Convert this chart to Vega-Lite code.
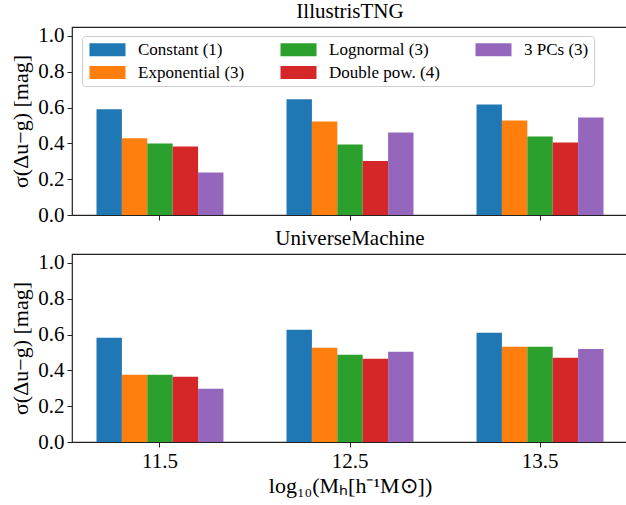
{
  "$schema": "https://vega.github.io/schema/vega-lite/v6.json",
  "padding": {"left": 9, "top": 0, "right": 0, "bottom": 2},
  "background": "white",
  "config": {
    "font": "Liberation Serif, serif",
    "view": {"stroke": "#222222", "strokeWidth": 1.2},
    "axis": {
      "labelFont": "Liberation Serif, serif",
      "titleFont": "Liberation Serif, serif",
      "labelFontSize": 21,
      "titleFontSize": 22,
      "titleFontWeight": "normal",
      "labelColor": "black",
      "titleColor": "black",
      "tickColor": "#222222",
      "tickSize": 5,
      "labelPadding": 3,
      "grid": false,
      "domain": false
    },
    "legend": {"labelFont": "Liberation Serif, serif"},
    "title": {"font": "Liberation Serif, serif", "fontSize": 21, "fontWeight": "normal", "color": "black", "offset": 3}
  },
  "data": {
    "values": [
      {"sim": "IllustrisTNG", "mass": "11.5", "model": "Constant (1)", "value": 0.590},
      {"sim": "IllustrisTNG", "mass": "11.5", "model": "Exponential (3)", "value": 0.429},
      {"sim": "IllustrisTNG", "mass": "11.5", "model": "Lognormal (3)", "value": 0.399},
      {"sim": "IllustrisTNG", "mass": "11.5", "model": "Double pow. (4)", "value": 0.382},
      {"sim": "IllustrisTNG", "mass": "11.5", "model": "3 PCs (3)", "value": 0.237},
      {"sim": "IllustrisTNG", "mass": "12.5", "model": "Constant (1)", "value": 0.646},
      {"sim": "IllustrisTNG", "mass": "12.5", "model": "Exponential (3)", "value": 0.522},
      {"sim": "IllustrisTNG", "mass": "12.5", "model": "Lognormal (3)", "value": 0.394},
      {"sim": "IllustrisTNG", "mass": "12.5", "model": "Double pow. (4)", "value": 0.302},
      {"sim": "IllustrisTNG", "mass": "12.5", "model": "3 PCs (3)", "value": 0.461},
      {"sim": "IllustrisTNG", "mass": "13.5", "model": "Constant (1)", "value": 0.617},
      {"sim": "IllustrisTNG", "mass": "13.5", "model": "Exponential (3)", "value": 0.528},
      {"sim": "IllustrisTNG", "mass": "13.5", "model": "Lognormal (3)", "value": 0.438},
      {"sim": "IllustrisTNG", "mass": "13.5", "model": "Double pow. (4)", "value": 0.405},
      {"sim": "IllustrisTNG", "mass": "13.5", "model": "3 PCs (3)", "value": 0.545},
      {"sim": "UniverseMachine", "mass": "11.5", "model": "Constant (1)", "value": 0.582},
      {"sim": "UniverseMachine", "mass": "11.5", "model": "Exponential (3)", "value": 0.375},
      {"sim": "UniverseMachine", "mass": "11.5", "model": "Lognormal (3)", "value": 0.375},
      {"sim": "UniverseMachine", "mass": "11.5", "model": "Double pow. (4)", "value": 0.364},
      {"sim": "UniverseMachine", "mass": "11.5", "model": "3 PCs (3)", "value": 0.297},
      {"sim": "UniverseMachine", "mass": "12.5", "model": "Constant (1)", "value": 0.627},
      {"sim": "UniverseMachine", "mass": "12.5", "model": "Exponential (3)", "value": 0.526},
      {"sim": "UniverseMachine", "mass": "12.5", "model": "Lognormal (3)", "value": 0.487},
      {"sim": "UniverseMachine", "mass": "12.5", "model": "Double pow. (4)", "value": 0.465},
      {"sim": "UniverseMachine", "mass": "12.5", "model": "3 PCs (3)", "value": 0.504},
      {"sim": "UniverseMachine", "mass": "13.5", "model": "Constant (1)", "value": 0.610},
      {"sim": "UniverseMachine", "mass": "13.5", "model": "Exponential (3)", "value": 0.532},
      {"sim": "UniverseMachine", "mass": "13.5", "model": "Lognormal (3)", "value": 0.532},
      {"sim": "UniverseMachine", "mass": "13.5", "model": "Double pow. (4)", "value": 0.470},
      {"sim": "UniverseMachine", "mass": "13.5", "model": "3 PCs (3)", "value": 0.520}
    ]
  },
  "spacing": 1,
  "vconcat": [
    {
      "title": {"text": "IllustrisTNG", "anchor": "middle"},
      "width": 556,
      "height": 188,
      "transform": [{"filter": "datum.sim === 'IllustrisTNG'"}],
      "mark": {"type": "bar"},
      "encoding": {
        "x": {"field": "mass", "type": "nominal", "sort": ["11.5", "12.5", "13.5"],
              "scale": {"paddingInner": 0.074, "paddingOuter": 0},
              "axis": {"labels": false, "title": null, "labelAngle": 0}},
        "xOffset": {"field": "model", "type": "nominal",
                    "sort": ["Constant (1)", "Exponential (3)", "Lognormal (3)", "Double pow. (4)", "3 PCs (3)"],
                    "scale": {"paddingInner": 0, "paddingOuter": 0.965}},
        "y": {"field": "value", "type": "quantitative",
              "scale": {"domain": [0, 1.05], "nice": false},
              "axis": {"values": [0, 0.2, 0.4, 0.6, 0.8, 1.0], "format": ".1f", "title": "σ(Δu−g) [mag]", "titlePadding": 5}},
        "color": {"field": "model", "type": "nominal",
                  "scale": {"domain": ["Constant (1)", "Exponential (3)", "Lognormal (3)", "Double pow. (4)", "3 PCs (3)"],
                            "range": ["#1f77b4", "#ff7f0e", "#2ca02c", "#d62728", "#9467bd"]},
                  "legend": {"title": null, "orient": "none", "legendX": 10, "legendY": 9, "columns": 3,
                             "symbolType": "M-1,-1.08H5V1.08H-1Z", "symbolSize": 144, "symbolStrokeWidth": 0,
                             "symbolOpacity": 1,
                             "labelFont": "Liberation Serif, serif", "labelFontSize": 17, "labelColor": "black",
                             "labelOffset": 34, "columnPadding": 33, "rowPadding": 5, "padding": 5,
                             "strokeColor": "#cccccc", "fillColor": "white", "cornerRadius": 3}}
      }
    },
    {
      "title": {"text": "UniverseMachine", "anchor": "middle"},
      "width": 556,
      "height": 188,
      "transform": [{"filter": "datum.sim === 'UniverseMachine'"}],
      "mark": {"type": "bar"},
      "encoding": {
        "x": {"field": "mass", "type": "nominal", "sort": ["11.5", "12.5", "13.5"],
              "scale": {"paddingInner": 0.074, "paddingOuter": 0},
              "axis": {"title": "log₁₀(Mₕ[h⁻¹M⊙])", "labelAngle": 0, "titlePadding": 4}},
        "xOffset": {"field": "model", "type": "nominal",
                    "sort": ["Constant (1)", "Exponential (3)", "Lognormal (3)", "Double pow. (4)", "3 PCs (3)"],
                    "scale": {"paddingInner": 0, "paddingOuter": 0.965}},
        "y": {"field": "value", "type": "quantitative",
              "scale": {"domain": [0, 1.05], "nice": false},
              "axis": {"values": [0, 0.2, 0.4, 0.6, 0.8, 1.0], "format": ".1f", "title": "σ(Δu−g) [mag]", "titlePadding": 5}},
        "color": {"field": "model", "type": "nominal", "legend": null}
      }
    }
  ]
}
